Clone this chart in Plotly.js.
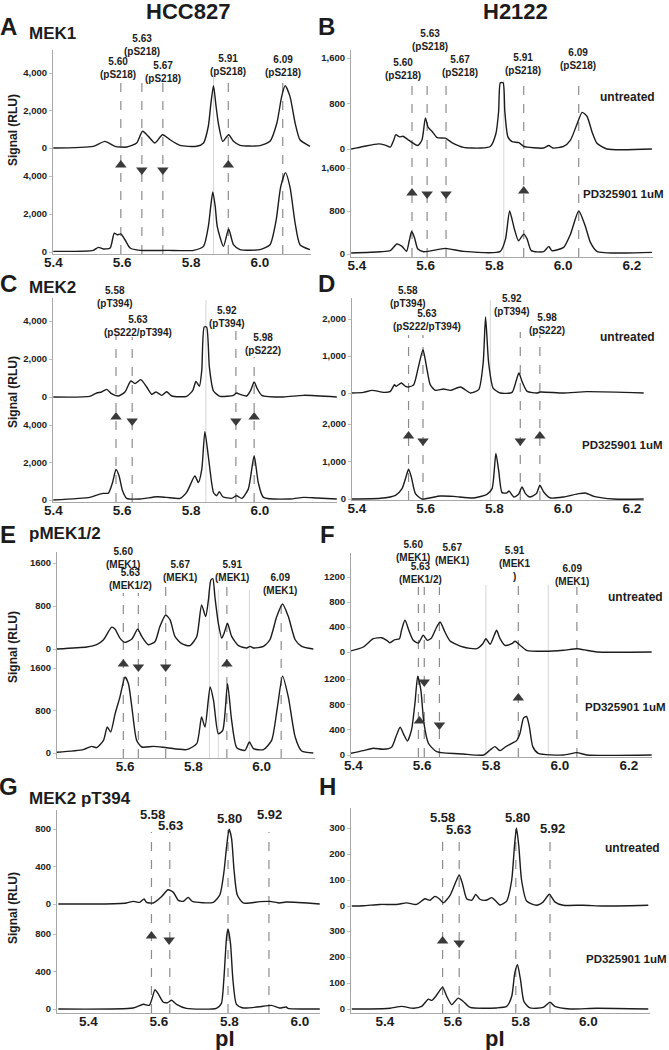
<!DOCTYPE html>
<html>
<head>
<meta charset="utf-8">
<script src="https://cdn.plot.ly/plotly-3.0.1.min.js"></script>
<style>
  body { margin: 0; background: #fff; }
  #chart { width: 669px; height: 1050px; }
</style>
</head>
<body>
<div id="chart"></div>
<script>
// ---- traces (pI, signal RLU) ----
// A: HCC827 MEK1
var aTopX = [5.4,5.516,5.55,5.579,5.613,5.642,5.659,5.676,5.695,5.717,5.739,5.768,5.816,5.836,5.85,5.857,5.865,5.872,5.879,5.892,5.909,5.923,5.942,6.0,6.029,6.049,6.063,6.073,6.087,6.102,6.116,6.145];
var aTopY = [0,90,355,90,50,270,890,620,270,710,440,140,90,270,1160,2300,3325,2300,1330,355,710,355,140,125,355,1330,2755,3325,2755,1330,440,90];
var aBotX = [5.4,5.516,5.531,5.545,5.565,5.577,5.586,5.596,5.608,5.623,5.652,5.729,5.807,5.836,5.85,5.857,5.863,5.87,5.876,5.894,5.909,5.923,5.942,6.0,6.029,6.047,6.06,6.074,6.087,6.102,6.116,6.145];
var aBotY = [35,87,245,157,210,990,905,955,645,210,87,87,87,295,1340,2400,3165,2400,1340,295,1215,383,122,122,383,1690,3425,4175,3425,1515,383,122];

// B: H2122 MEK1
var bTopX = [5.383,5.419,5.463,5.482,5.497,5.507,5.513,5.524,5.534,5.55,5.577,5.589,5.599,5.607,5.618,5.633,5.657,5.676,5.71,5.759,5.788,5.804,5.812,5.817,5.825,5.83,5.839,5.851,5.871,5.885,5.943,5.958,5.97,6.001,6.021,6.04,6.055,6.069,6.084,6.098,6.127,6.258];
var bTopY = [0,45,90,67,34,157,252,213,224,157,62,157,548,380,313,201,190,112,28,17,45,268,660,1163,1163,660,213,129,112,45,17,62,17,45,157,436,643,576,296,101,0,0];
var bBotX = [5.383,5.468,5.497,5.516,5.531,5.544,5.552,5.559,5.567,5.577,5.594,5.657,5.71,5.817,5.832,5.844,5.858,5.87,5.885,5.895,5.907,5.943,5.958,5.967,6.001,6.021,6.045,6.064,6.079,6.098,6.258];
var bBotY = [20,43,62,185,141,49,246,418,308,92,43,105,49,49,277,800,461,246,369,277,62,43,141,62,123,369,800,523,215,49,31];

// C: HCC827 MEK2
var cTopX = [5.4,5.506,5.526,5.54,5.555,5.569,5.589,5.608,5.625,5.637,5.654,5.671,5.686,5.698,5.715,5.729,5.744,5.787,5.805,5.814,5.824,5.831,5.838,5.845,5.853,5.865,5.884,5.923,5.932,5.942,5.961,5.973,5.983,5.992,6.005,6.068,6.126,6.223];
var cTopY = [0,35,210,263,403,175,53,263,842,702,912,526,140,263,88,280,53,35,351,824,561,1403,3684,3684,1579,316,35,88,210,140,53,351,789,439,88,0,88,0];
var cBotX = [5.4,5.506,5.526,5.545,5.56,5.572,5.582,5.591,5.601,5.613,5.652,5.7,5.729,5.768,5.787,5.811,5.821,5.831,5.84,5.85,5.865,5.874,5.882,5.892,5.918,5.932,5.947,5.966,5.983,5.995,6.01,6.087,6.126,6.165,6.223];
var cBotY = [0,140,263,351,368,930,1631,1280,491,88,53,175,140,88,403,1280,930,1631,3648,2333,403,228,439,175,88,228,88,579,2368,930,140,53,140,105,53];

// D: H2122 MEK2
var dTopX = [5.385,5.419,5.444,5.478,5.497,5.509,5.514,5.529,5.541,5.55,5.565,5.579,5.592,5.602,5.613,5.628,5.652,5.672,5.701,5.73,5.754,5.767,5.774,5.783,5.796,5.817,5.851,5.864,5.871,5.88,5.895,5.924,5.933,6.001,6.069,6.234];
var dTopY = [0,18,72,18,45,225,180,270,180,162,225,721,1171,721,225,72,108,72,162,0,90,811,2054,811,135,0,18,360,541,315,45,0,27,0,36,0];
var dBotX = [5.385,5.468,5.512,5.531,5.544,5.55,5.558,5.57,5.589,5.642,5.681,5.739,5.778,5.793,5.804,5.812,5.822,5.836,5.842,5.856,5.87,5.88,5.89,5.902,5.922,5.932,5.943,5.963,6.001,6.045,6.064,6.089,6.147,6.234];
var dBotY = [0,18,98,277,634,795,589,143,0,80,71,27,125,277,1214,768,170,161,214,54,125,321,143,54,143,366,188,27,54,143,161,71,0,0];

// E: HCC827 pMEK1/2
var eTopX = [5.4,5.488,5.517,5.537,5.561,5.571,5.585,5.6,5.62,5.637,5.649,5.668,5.688,5.702,5.719,5.732,5.746,5.766,5.79,5.81,5.824,5.836,5.844,5.851,5.857,5.863,5.873,5.883,5.89,5.9,5.912,5.932,5.956,5.966,5.976,6.005,6.024,6.044,6.061,6.078,6.098,6.117,6.151];
var eTopY = [0,37,80,172,406,369,203,123,185,369,234,80,141,418,633,541,234,98,62,234,818,603,910,1279,1310,972,480,203,295,480,234,62,18,49,18,49,172,603,836,603,172,49,0];
var eBotX = [5.4,5.478,5.502,5.517,5.537,5.548,5.558,5.571,5.585,5.6,5.61,5.62,5.634,5.649,5.683,5.722,5.78,5.81,5.824,5.834,5.849,5.859,5.873,5.886,5.9,5.912,5.927,5.951,5.964,5.976,6.005,6.029,6.046,6.061,6.078,6.098,6.117,6.151];
var eBotY = [13,63,125,100,238,489,395,740,1053,1430,1304,865,238,113,125,100,63,176,677,489,1241,991,364,426,1304,614,100,50,207,82,63,238,865,1448,1053,301,38,0];

// F: H2122 pMEK1/2
var fTopX = [5.392,5.429,5.458,5.482,5.497,5.506,5.521,5.534,5.54,5.55,5.563,5.574,5.589,5.603,5.615,5.627,5.642,5.652,5.666,5.681,5.719,5.758,5.776,5.785,5.797,5.809,5.816,5.826,5.84,5.86,5.87,5.884,5.903,5.952,6.01,6.049,6.078,6.107,6.266];
var fTopY = [16,80,213,229,187,149,197,213,347,507,320,187,144,267,187,224,400,480,320,176,80,53,133,213,123,267,347,213,107,133,171,107,27,11,27,53,27,0,0];
var fBotX = [5.392,5.429,5.458,5.487,5.511,5.524,5.536,5.547,5.557,5.569,5.579,5.587,5.596,5.605,5.618,5.642,5.719,5.778,5.797,5.811,5.826,5.84,5.86,5.874,5.884,5.894,5.903,5.911,5.921,5.937,6.01,6.049,6.078,6.266];
var fBotY = [26,69,106,90,122,291,439,317,222,397,820,1243,1031,502,185,53,16,0,79,132,69,122,185,227,344,582,608,449,132,26,0,37,0,0];

// G: HCC827 MEK2 pT394
var gTopX = [5.315,5.433,5.508,5.527,5.546,5.558,5.565,5.584,5.608,5.626,5.641,5.655,5.669,5.683,5.695,5.754,5.773,5.784,5.792,5.799,5.806,5.813,5.822,5.839,5.886,5.914,5.942,5.961,6.056];
var gTopY = [0,0,11,28,18,53,18,11,81,152,124,39,28,71,28,18,99,329,612,797,701,365,99,11,25,28,11,21,0];
var gBotX = [5.315,5.527,5.556,5.573,5.582,5.589,5.598,5.612,5.625,5.636,5.65,5.678,5.763,5.777,5.784,5.792,5.796,5.803,5.81,5.82,5.839,5.895,5.919,5.942,5.961,5.966,6.056];
var gBotY = [0,11,50,39,128,207,164,75,68,93,50,7,7,57,307,771,853,700,307,50,11,29,39,11,21,7,0];

// H: H2122 MEK2 pT394
var hTopX = [5.302,5.336,5.385,5.434,5.464,5.493,5.518,5.533,5.547,5.56,5.572,5.592,5.609,5.619,5.629,5.641,5.656,5.668,5.68,5.698,5.715,5.727,5.739,5.759,5.774,5.782,5.788,5.795,5.803,5.818,5.847,5.867,5.885,5.901,5.926,5.985,6.044,6.123,6.177];
var hTopY = [0,1,6,6,12,6,28,22,37,28,12,41,93,119,84,28,22,44,26,22,32,19,4,19,100,229,300,229,100,19,3,16,45,16,3,3,0,1,3];
var hBotX = [5.302,5.356,5.415,5.449,5.484,5.508,5.528,5.538,5.55,5.56,5.57,5.582,5.597,5.616,5.631,5.651,5.729,5.759,5.774,5.783,5.791,5.8,5.81,5.828,5.867,5.887,5.901,5.946,6.024,6.177];
var hBotY = [0,0,3,10,3,10,38,33,49,68,84,49,17,42,29,6,4,10,49,138,170,112,29,4,6,26,10,0,3,0];

// ---- peak markers (pI on the axis) and labels ----
var aLines = [5.596,5.657,5.718,5.908,6.066];
var bLines = [5.56,5.604,5.659,5.885,6.045];
var mek1Labels = ['5.60<br>(pS218)','5.63<br>(pS218)','5.67<br>(pS218)','5.91<br>(pS218)','6.09<br>(pS218)'];
var cLines = [5.582,5.629,5.93,5.983];
var dLines = [5.55,5.592,5.875,5.932];
var mek2Labels = ['5.58<br>(pT394)','5.63<br>(pS222/pT394)','5.92<br>(pT394)','5.98<br>(pS222)'];
var eLines = [5.595,5.639,5.719,5.898,6.057];
var fLines = [5.589,5.606,5.65,5.879,6.049];
var eLabels = ['5.60<br>(MEK1)','5.63<br>(MEK1/2)','5.67<br>(MEK1)','5.91<br>(MEK1)','6.09<br>(MEK1)'];
var fLabels = ['5.60<br>(MEK1)','5.63<br>(MEK1/2)','5.67<br>(MEK1)','5.91<br>(MEK1<br>)','6.09<br>(MEK1)'];
var gLines = [5.579,5.631,5.796,5.912];
var hLines = [5.57,5.619,5.786,5.887];
var pt394Labels = ['5.58','5.63','5.80','5.92'];

// arrows: pI and direction (up = increased with PD325901)
var aArrowX = [5.596,5.657,5.718,5.908], aArrowDir = ['up','down','down','up'];
var bArrowX = [5.56,5.604,5.659,5.885], bArrowDir = ['up','down','down','up'];
var cArrowX = [5.582,5.629,5.93,5.983], cArrowDir = ['up','down','down','up'];
var dArrowX = [5.55,5.592,5.875,5.932], dArrowDir = ['up','down','down','up'];
var eArrowX = [5.595,5.639,5.719,5.898], eArrowDir = ['up','down','down','up'];
var fArrowX = [5.606,5.592,5.65,5.879], fArrowDir = ['down','up','down','up'];
var gArrowX = [5.579,5.629], gArrowDir = ['up','down'];
var hArrowX = [5.57,5.619], hArrowDir = ['up','down'];

// faint solid guide lines
var aFaint = [5.865], bFaint = [5.827], cFaint = [5.843], dFaint = [5.788];
var eFaint = [5.847,5.873,5.964], fFaint = [5.785,5.966], gFaint = [], hFaint = [];

var W = 669, H = 1050;
var FONT = 'Arial, "Liberation Sans", sans-serif';
var INK = '#1c1c1c';

function fx(p) { return p / W; }
function fy(p) { return 1 - p / H; }
// cal = [value1, px1, value2, px2]
function valAt(cal, p) {
  var k = (cal[3] - cal[1]) / (cal[2] - cal[0]);
  return cal[0] + (p - cal[1]) / k;
}

// layout of each panel in pixels
var panels = [
  {top: [aTopX, aTopY], bot: [aBotX, aBotY], xd: [53, 311], xc: [5.4, 53.3, 6.0, 260],
   td: [50, 162], tc: [0, 148, 4000, 73], bd: [162, 254], bc: [0, 252, 4000, 176],
   xt: [5.4, 5.6, 5.8, 6.0], yt: [0, 2000, 4000], fmt: ',',
   lines: aLines, lineTop: [80, 80, 83, 79, 79], labels: mek1Labels, lsize: 10,
   lpos: [[118, 68], [142, 45], [163, 72], [228, 65], [283, 66]],
   ax: aArrowX, adir: aArrowDir, apy: [165, 170, 170, 165], faint: aFaint, faintTop: 77},
  {top: [bTopX, bTopY], bot: [bBotX, bBotY], xd: [351, 653], xc: [5.4, 357, 6.2, 632],
   td: [50, 157], tc: [0, 149, 1600, 58], bd: [157, 257], bc: [0, 254, 1600, 168],
   xt: [5.4, 5.6, 5.8, 6.0, 6.2], yt: [0, 800, 1600], fmt: ',',
   lines: bLines, lineTop: [82, 80, 78, 83, 78], labels: mek1Labels, lsize: 10,
   lpos: [[403, 69], [430, 40], [460, 66], [523, 64], [578, 59]],
   ax: bArrowX, adir: bArrowDir, apy: [193, 194, 194, 191], faint: bFaint, faintTop: 80},
  {top: [cTopX, cTopY], bot: [cBotX, cBotY], xd: [53, 337], xc: [5.4, 53.3, 6.0, 260],
   td: [298, 410], tc: [0, 397, 4000, 321], bd: [410, 502], bc: [0, 500, 4000, 425],
   xt: [5.4, 5.6, 5.8, 6.0], yt: [0, 2000, 4000], fmt: ',',
   lines: cLines, lineTop: [335, 337, 327, 357], labels: mek2Labels, lsize: 10,
   lpos: [[115, 297], [138, 326], [227, 317], [263, 344]],
   ax: cArrowX, adir: cArrowDir, apy: [417, 421, 421, 417], faint: cFaint, faintTop: 300},
  {top: [dTopX, dTopY], bot: [dBotX, dBotY], xd: [352, 644], xc: [5.4, 357, 6.2, 632],
   td: [298, 408], tc: [0, 393, 2000, 319], bd: [408, 500], bc: [0, 499, 2000, 424],
   xt: [5.4, 5.6, 5.8, 6.0, 6.2], yt: [0, 1000, 2000], fmt: ',',
   lines: dLines, lineTop: [335, 335, 332, 335], labels: mek2Labels, lsize: 10,
   lpos: [[408, 297], [427, 320], [512, 305], [547, 324]],
   ax: dArrowX, adir: dArrowDir, apy: [436, 441, 441, 436], faint: dFaint, faintTop: 300},
  {top: [eTopX, eTopY], bot: [eBotX, eBotY], xd: [57, 315], xc: [5.4, 56.7, 6.0, 261.7],
   td: [552, 660], tc: [0, 649, 1600, 563], bd: [660, 758], bc: [0, 753, 1600, 668],
   xt: [5.4, 5.6, 5.8, 6.0], yt: [0, 800, 1600], fmt: 'd',
   lines: eLines, lineTop: [593, 593, 585, 583, 598], labels: eLabels, lsize: 10,
   lpos: [[123, 558], [130, 579], [180, 571], [232, 571], [280, 584]],
   ax: eArrowX, adir: eArrowDir, apy: [664, 667, 667, 664], faint: eFaint, faintTop: 590},
  {top: [fTopX, fTopY], bot: [fBotX, fBotY], xd: [351, 652], xc: [5.4, 353.3, 6.0, 560],
   td: [553, 665], tc: [0, 652, 1200, 577], bd: [665, 757], bc: [0, 755, 1200, 679],
   xt: [5.4, 5.6, 5.8, 6.0, 6.2], yt: [0, 400, 800, 1200], fmt: 'd',
   lines: fLines, lineTop: [587, 587, 587, 586, 587], labels: fLabels, lsize: 10,
   lpos: [[413, 551], [420, 573], [452, 554], [515, 563], [572, 575]],
   ax: fArrowX, adir: fArrowDir, apy: [682, 721, 725, 698], faint: fFaint, faintTop: 585},
  {top: [gTopX, gTopY], bot: [gBotX, gBotY], xd: [57, 320], xc: [5.4, 88.3, 6.0, 300],
   td: [810, 920], tc: [0, 904, 800, 829], bd: [920, 1013], bc: [0, 1009, 800, 934],
   xt: [5.4, 5.6, 5.8, 6.0], yt: [0, 400, 800], fmt: 'd',
   lines: gLines, lineTop: [832, 832, 830, 832], labels: pt394Labels, lsize: 13,
   lpos: [[152, 814], [170, 825], [229, 818], [269, 814]],
   ax: gArrowX, adir: gArrowDir, apy: [936, 940], faint: gFaint, faintTop: 830},
  {top: [hTopX, hTopY], bot: [hBotX, hBotY], xd: [351, 650], xc: [5.4, 385, 6.0, 588.3],
   td: [808, 920], tc: [0, 906, 300, 828], bd: [920, 1013], bc: [0, 1009, 300, 931],
   xt: [5.4, 5.6, 5.8, 6.0], yt: [0, 100, 200, 300], fmt: 'd',
   lines: hLines, lineTop: [837, 833, 829, 838], labels: pt394Labels, lsize: 13,
   lpos: [[442, 817], [458, 829], [517, 817], [552, 828]],
   ax: hArrowX, adir: hArrowDir, apy: [941, 943], faint: hFaint, faintTop: 830}
];

var data = [];
var shapes = [];
var annotations = [];
var layout = {
  width: W, height: H,
  margin: {l: 0, r: 0, t: 0, b: 0},
  paper_bgcolor: '#fff', plot_bgcolor: 'rgba(0,0,0,0)',
  showlegend: false, hovermode: false,
  font: {family: FONT, color: INK}
};

function text(t, x, y, size, opts) {
  var a = {
    text: '<b>' + t + '</b>', x: fx(x), y: fy(y), xref: 'paper', yref: 'paper',
    showarrow: false, xanchor: 'center', yanchor: 'middle',
    font: {family: FONT, size: size, color: INK}
  };
  for (var k in opts) a[k] = opts[k];
  return a;
}

panels.forEach(function (p, i) {
  var xr = i === 0 ? 'x' : 'x' + (i + 1);
  var yb = i === 0 ? 'y' : 'y' + (2 * i + 1);
  var yt = 'y' + (2 * i + 2);
  var axisStyle = {
    showline: true, linecolor: '#a8a8a8', linewidth: 1,
    showgrid: false, zeroline: false, fixedrange: true
  };

  layout['xaxis' + (i === 0 ? '' : i + 1)] = Object.assign({}, axisStyle, {
    domain: [fx(p.xd[0]), fx(p.xd[1])],
    range: [valAt(p.xc, p.xd[0]), valAt(p.xc, p.xd[1])],
    anchor: yb, tickvals: p.xt, tickformat: '.1f', ticks: '', ticklabelstandoff: -4,
    tickfont: {family: FONT, size: 13.5, color: INK, weight: 'bold'}
  });
  var yFont = {family: FONT, size: 9.5, color: '#222', weight: 'bold'};
  layout['yaxis' + (i === 0 ? '' : 2 * i + 1)] = Object.assign({}, axisStyle, {
    domain: [fy(p.bd[1]), fy(p.bd[0])],
    range: [valAt(p.bc, p.bd[1]), valAt(p.bc, p.bd[0])],
    anchor: xr, tickvals: p.yt, tickformat: p.fmt,
    ticks: 'outside', ticklen: 3, tickcolor: '#c0c0c0', tickfont: yFont
  });
  layout['yaxis' + (2 * i + 2)] = Object.assign({}, axisStyle, {
    domain: [fy(p.td[1]), fy(p.td[0])],
    range: [valAt(p.tc, p.td[1]), valAt(p.tc, p.td[0])],
    anchor: xr, tickvals: p.yt, tickformat: p.fmt,
    ticks: 'outside', ticklen: 3, tickcolor: '#c0c0c0', tickfont: yFont
  });

  // faint solid guides
  p.faint.forEach(function (v) {
    shapes.push({type: 'line', xref: xr, yref: 'paper', x0: v, x1: v,
      y0: fy(p.bd[1]), y1: fy(p.faintTop), line: {color: '#d6d6d6', width: 1}, layer: 'below'});
  });
  // dashed peak lines
  p.lines.forEach(function (v, j) {
    shapes.push({type: 'line', xref: xr, yref: 'paper', x0: v, x1: v,
      y0: fy(p.bd[1]), y1: fy(p.lineTop[j]), line: {color: '#8c8c8c', width: 1.2, dash: 'dash'}, layer: 'below'});
    annotations.push(text(p.labels[j], p.lpos[j][0], p.lpos[j][1], p.lsize));
  });

  data.push({type: 'scatter', mode: 'lines', x: p.top[0], y: p.top[1], xaxis: xr, yaxis: yt,
    line: {color: INK, width: 1.4, shape: 'spline', smoothing: 0.6}, hoverinfo: 'skip'});
  data.push({type: 'scatter', mode: 'lines', x: p.bot[0], y: p.bot[1], xaxis: xr, yaxis: yb,
    line: {color: INK, width: 1.4, shape: 'spline', smoothing: 0.6}, hoverinfo: 'skip'});

  // arrows in the gap between the two traces
  data.push({type: 'scatter', mode: 'markers', x: p.ax,
    y: p.apy.map(function (py) { return valAt(p.bc, py); }),
    xaxis: xr, yaxis: yb, cliponaxis: false, hoverinfo: 'skip',
    marker: {color: '#3a3a3a', size: 10,
      symbol: p.adir.map(function (d) { return d === 'up' ? 'triangle-up' : 'triangle-down'; })}});
});

// column heads, panel letters, titles
annotations.push(text('HCC827', 188, 11, 22));
annotations.push(text('H2122', 515, 11, 22));
[['A', 8, 27], ['B', 326, 27], ['C', 8, 283], ['D', 326, 283],
 ['E', 8, 534], ['F', 327, 534], ['G', 8, 786], ['H', 327, 786]].forEach(function (l) {
  annotations.push(text(l[0], l[1], l[2], 24));
});
[['MEK1', 33], ['MEK2', 288], ['pMEK1/2', 533], ['MEK2 pT394', 798]].forEach(function (t) {
  annotations.push(text(t[0], 27, t[1], 17, {xanchor: 'left'}));
});
[130, 392, 647, 908].forEach(function (y) {
  annotations.push(text('Signal (RLU)', 13, y, 12, {textangle: -90}));
});
annotations.push(text('pI', 225, 1038, 22));
annotations.push(text('pI', 495, 1038, 22));

// condition labels on the right column
[[598, 97, 581, 194], [598, 337, 580, 445], [606, 597, 583, 707], [603, 848, 584, 959]].forEach(function (c) {
  annotations.push(text('untreated', c[0], c[1], 12, {xanchor: 'left'}));
  annotations.push(text('PD325901 1uM', c[2], c[3], 11.5, {xanchor: 'left'}));
});

layout.shapes = shapes;
layout.annotations = annotations;

Plotly.newPlot('chart', data, layout, {staticPlot: true, displayModeBar: false});
</script>
</body>
</html>
